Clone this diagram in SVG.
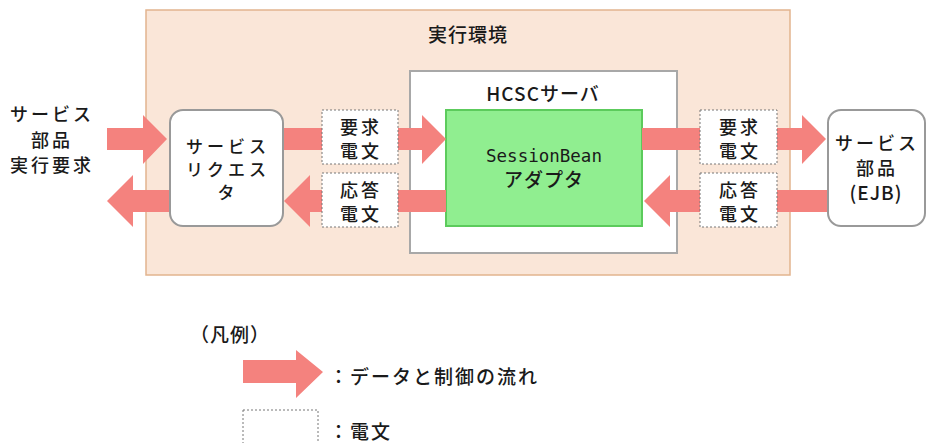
<svg xmlns="http://www.w3.org/2000/svg" width="927" height="443" viewBox="0 0 927 443">
<style>
text{font-family:"Noto Sans CJK JP","DejaVu Sans",sans-serif;font-size:19px;font-weight:500;fill:#1a1a1a;text-anchor:middle;dominant-baseline:central;letter-spacing:1px}
.mono{font-family:"DejaVu Sans Mono","Liberation Mono",monospace;font-size:17.5px;font-weight:normal;letter-spacing:0}
.t2{font-size:18px;letter-spacing:3px}
.t3{font-size:17px;letter-spacing:4px}
.arr{fill:#F4827E}
.tel{fill:#fff;stroke:#777;stroke-width:1;stroke-dasharray:2 2}
.node{fill:#fff;stroke:#999;stroke-width:2}
.lt{text-anchor:start}
</style>
<rect width="927" height="443" fill="#fff"/>
<g id="env">
<rect x="146" y="10" width="644" height="265" fill="#FAE6D8" stroke="#E2B48E" stroke-width="1.5"/>
<text x="468" y="33">実行環境</text>
</g>
<g id="hcsc">
<rect x="410" y="71" width="267" height="182" fill="#fff" stroke="#A8A8A8" stroke-width="2"/>
<text x="543" y="92">HCSCサーバ</text>
</g>
<g id="adapter">
<rect x="446" y="110" width="196" height="116" fill="#90EE90" stroke="#5CCB5C" stroke-width="2"/>
<text x="544" y="156" class="mono">SessionBean</text>
<text x="544" y="178">アダプタ</text>
</g>
<g id="client">
<text x="52" y="113" class="t2">サービス</text>
<text x="52" y="139" class="t2">部品</text>
<text x="52" y="164" class="t2">実行要求</text>
</g>
<g id="connectors">
<polygon class="arr" points="107,128 143,128 143,115 167,139 143,164 143,150 107,150"/>
<polygon class="arr" points="170,190 133,190 133,175 107,201 133,227 133,212 170,212"/>
<polygon class="arr" points="283,128 422,128 422,115 446,139 422,164 422,150 283,150"/>
<polygon class="arr" points="446,190 310,190 310,175 284,201 310,227 310,212 446,212"/>
<polygon class="arr" points="642,128 802,128 802,115 826,139 802,164 802,150 642,150"/>
<polygon class="arr" points="828,190 670,190 670,175 644,201 670,227 670,212 828,212"/>
</g>
<g id="requester">
<rect class="node" x="170" y="110" width="113" height="116" rx="13"/>
<text x="228" y="145" class="t3">サービス</text>
<text x="228" y="168" class="t3">リクエス</text>
<text x="228" y="191" class="t3">タ</text>
</g>
<g id="service">
<rect class="node" x="828" y="110" width="97" height="116" rx="13"/>
<text x="877" y="142" class="t2">サービス</text>
<text x="877" y="167" class="t2">部品</text>
<text x="876" y="191">(EJB)</text>
</g>
<g id="req1">
<rect class="tel" x="322" y="110" width="76" height="54"/>
<text x="361" y="126" class="t2">要求</text>
<text x="361" y="150" class="t2">電文</text>
</g>
<g id="res1">
<rect class="tel" x="322" y="173" width="76" height="54"/>
<text x="361" y="189" class="t2">応答</text>
<text x="361" y="213" class="t2">電文</text>
</g>
<g id="req2">
<rect class="tel" x="700" y="110" width="77" height="54"/>
<text x="740" y="126" class="t2">要求</text>
<text x="740" y="150" class="t2">電文</text>
</g>
<g id="res2">
<rect class="tel" x="700" y="173" width="77" height="54"/>
<text x="740" y="189" class="t2">応答</text>
<text x="740" y="213" class="t2">電文</text>
</g>
<g id="legend">
<text x="190" y="333" class="lt">（凡例）</text>
<polygon class="arr" points="243,360 296,360 296,350 323,372 296,398 296,383 243,383"/>
<text x="329" y="375" class="lt" style="letter-spacing:2px">：データと制御の流れ</text>
<rect class="tel" x="243" y="410" width="75" height="40"/>
<text x="329" y="430" class="lt" style="letter-spacing:2px">：電文</text>
</g>
</svg>
